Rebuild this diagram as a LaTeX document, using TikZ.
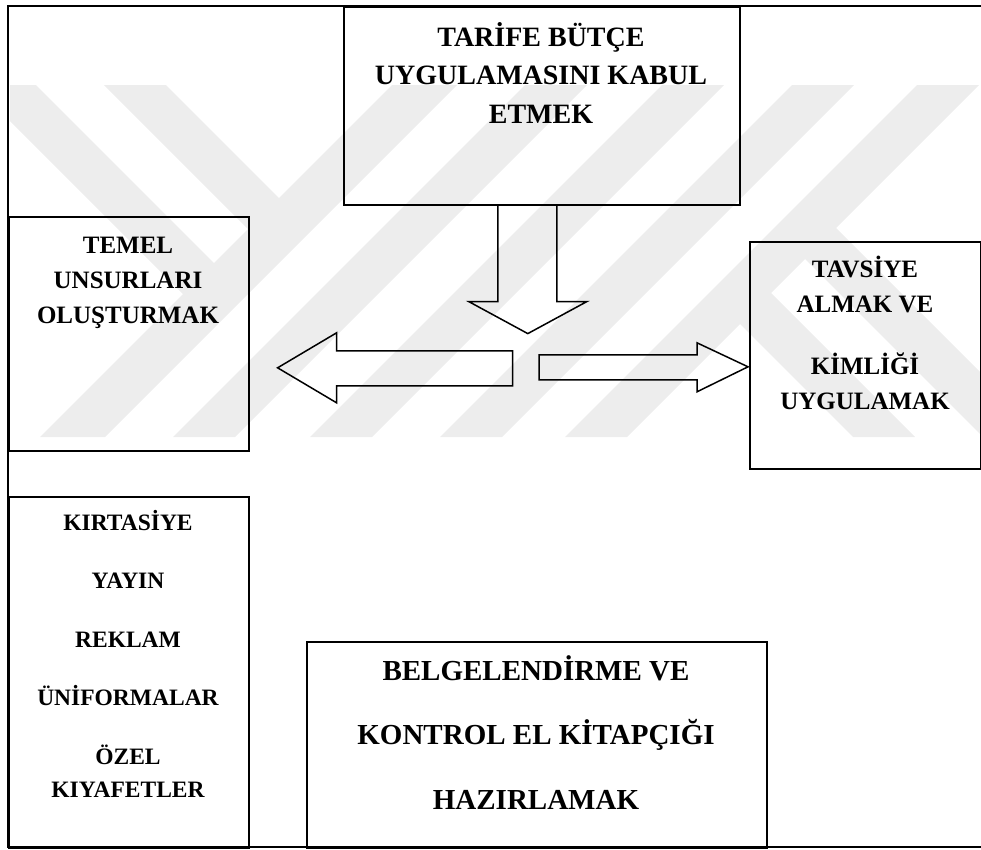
\documentclass[tikz,border=0pt]{standalone}
\usepackage{fontspec}
\setmainfont{Liberation Serif}
\usetikzlibrary{calc}
\begin{document}
\begin{tikzpicture}[x=1pt,y=-1pt,
  frame/.style={line width=1.6pt},
  box/.style={draw, line width=1.6pt, inner sep=0pt, anchor=north west},
  blockarrow/.style={draw, line width=1.5pt, line join=miter},
  wm/.style={fill=black!7, draw=none},
  lbl/.style={anchor=base, inner sep=0pt},
  ttop/.style={lbl, font=\fontsize{28}{30}\selectfont\bfseries},
  tside/.style={lbl, font=\fontsize{25}{28}\selectfont\bfseries},
  tlist/.style={lbl, font=\fontsize{23.5}{26}\selectfont\bfseries},
  tbig/.style={lbl, font=\fontsize{29}{32}\selectfont\bfseries},
]
\useasboundingbox (0,0) rectangle (981,849);

% pale background emblem: parallel "/" bars with short "\" bars joining them
\begin{scope}
  \clip (10,0) rectangle (981,849);
  \foreach \xa/\xb in {40/105, 173/235, 310/372, 440/502, 565/627}
    \fill[wm] (\xa,437) -- (\xb,437) -- ({\xb+352},85) -- ({\xa+352},85) -- cycle;
  \fill[wm] (104,85) -- (166,85) -- (299,218) -- (268,249) -- cycle;
  \fill[wm] (-26,85) -- (36,85) -- (234,283) -- (203,314) -- cycle;
  \fill[wm] (915,437) -- (853,437) -- (720,304) -- (751,273) -- cycle;
  \fill[wm] (1045,437) -- (983,437) -- (785,239) -- (816,208) -- cycle;
\end{scope}

% outer frame (open on the right)
\coordinate (ftr) at (981,6);
\coordinate (ftl) at (8,6);
\coordinate (fbl) at (8,847);
\coordinate (fbr) at (981,847);
\draw[frame] (ftr) -- (ftl) -- (fbl) -- (fbr);

% boxes
\node[box, minimum width=396pt, minimum height=198pt] (top) at (343,6) {};
\node[box, minimum width=240pt, minimum height=234pt] (temel) at (8,216) {};
\node[box, minimum width=231pt, minimum height=227pt] (tavsiye) at (749,241) {};
\node[box, minimum width=240pt, minimum height=351pt] (kirtasiye) at (8,496) {};
\node[box, minimum width=460pt, minimum height=206pt] (belge) at (306,641) {};

% texts
\node[ttop] (top1) at (541,46) {TARİFE BÜTÇE};
\node[ttop] (top2) at (541,84) {UYGULAMASINI KABUL};
\node[ttop] (top3) at (541,123) {ETMEK};

\node[tside] (tem1) at (128,253) {TEMEL};
\node[tside] (tem2) at (128,288) {UNSURLARI};
\node[tside] (tem3) at (128,323) {OLUŞTURMAK};

\node[tside] (tav1) at (865,277) {TAVSİYE};
\node[tside] (tav2) at (865,312) {ALMAK VE};
\node[tside] (tav3) at (865,374) {KİMLİĞİ};
\node[tside] (tav4) at (865,409) {UYGULAMAK};

\node[tlist] (kir1) at (128,530) {KIRTASİYE};
\node[tlist] (kir2) at (128,588) {YAYIN};
\node[tlist] (kir3) at (128,647) {REKLAM};
\node[tlist] (kir4) at (128,705) {ÜNİFORMALAR};
\node[tlist] (kir5) at (128,764) {ÖZEL};
\node[tlist] (kir6) at (128,797) {KIYAFETLER};

\node[tbig] (bel1) at (536,680) {BELGELENDİRME VE};
\node[tbig] (bel2) at (536,744) {KONTROL EL KİTAPÇIĞI};
\node[tbig] (bel3) at (536,809) {HAZIRLAMAK};

% block arrows
\draw[blockarrow, shift={(top.south)}]
  (-44,0) -- (-44,96) -- (-73,96) -- (-14,128) -- (45,96) -- (15,96) -- (15,0);

\coordinate (ltip) at ($(temel.east)+(28,34)$);
\draw[blockarrow, shift={(ltip)}]
  (0,0) -- (59,-35) -- (59,-17) -- (235,-17) -- (235,18) -- (59,18) -- (59,35) -- cycle;

\coordinate (rtip) at ($(tavsiye.west)+(-1,11.5)$);
\draw[blockarrow, shift={(rtip)}]
  (0,0) -- (-51,-24) -- (-51,-12) -- (-209,-12) -- (-209,13) -- (-51,13) -- (-51,25) -- cycle;
\end{tikzpicture}
\end{document}
